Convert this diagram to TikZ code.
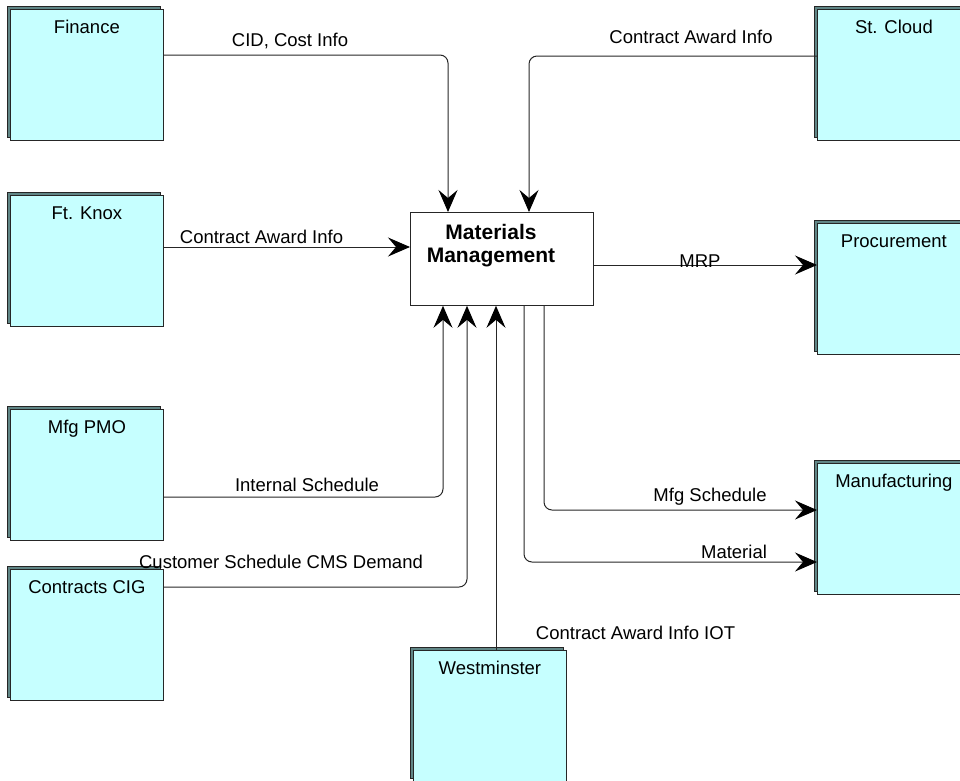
\documentclass[tikz,border=0pt]{standalone}
\usepackage{fontspec}
\setmainfont{Liberation Sans}
\usetikzlibrary{arrows.meta,shadows}
\definecolor{boxfill}{RGB}{198,255,255}
\definecolor{boxshade}{RGB}{96,134,134}
\begin{document}
\begin{tikzpicture}[x=1pt,y=-1pt,
        font=\fontsize{18.5}{22}\selectfont,
        box/.style={draw=black!85, fill=boxfill, line width=0.8pt, inner sep=0pt,
            minimum width=153pt, text height=24pt, text depth=107pt, anchor=north west,
            copy shadow={shadow xshift=-3pt, shadow yshift=3pt, fill=boxshade, draw=black!85}},
        flow/.style={draw=black!85, line width=1pt, rounded corners=8pt,
            -{Stealth[length=22pt,width=19pt,inset=8pt,black]}},
        lbl/.style={anchor=base, inner sep=0pt}]
        \useasboundingbox (0,0) rectangle (960,780);
        % outside parties
        \node[box] (fin) at (10,9) {Finance};
        \node[box] (knox) at (10,195) {Ft. Knox};
        \node[box] (pmo) at (10,409) {Mfg PMO};
        \node[box] (cig) at (10,569) {Contracts CIG};
        \node[box] (stc) at (817,9) {St. Cloud};
        \node[box] (proc) at (817,223) {Procurement};
        \node[box] (manu) at (817,463) {Manufacturing};
        \node[box] (west) at (413,650) {Westminster};
        % the process
        \node[draw=black!85, line width=0.8pt, fill=white, anchor=north west,
            minimum width=183pt, minimum height=93pt] (mm) at (410,212) {};
        \node[font=\bfseries\fontsize{21}{23}\selectfont, align=center, anchor=north,
            inner sep=0pt] (mmt) at (491,224) {Materials\\Management};
        % flows
        \draw[flow] ([yshift=-46pt]fin.north east) -| ([xshift=38pt]mm.north west);
        \draw[flow] ([yshift=-47pt]stc.north west) -| ([xshift=119pt]mm.north west);
        \draw[flow] ([yshift=-52pt]knox.north east) coordinate (k1) -- (k1 -| mm.west);
        \draw[flow] ([yshift=-53pt]mm.north east) coordinate (m1) -- (m1 -| proc.west);
        \draw[flow] ([yshift=-88pt]pmo.north east) -| ([xshift=33pt]mm.south west);
        \draw[flow] ([yshift=-18pt]cig.north east) -| ([xshift=57pt]mm.south west);
        \draw[flow] ([xshift=83pt]west.north west) coordinate (w1) -- (w1 |- mm.south);
        \draw[flow] ([xshift=134pt]mm.south west) |- ([yshift=-47pt]manu.north west);
        \draw[flow] ([xshift=114pt]mm.south west) |- ([yshift=-99pt]manu.north west);
        % flow labels
        \node[lbl] (lcid) at (290,46) {CID, Cost Info};
        \node[lbl] (lstc) at (691,43) {Contract Award Info};
        \node[lbl] (lknox) at (261.5,243) {Contract Award Info};
        \node[lbl] (lmrp) at (700,267) {MRP};
        \node[lbl] (lpmo) at (307,491) {Internal Schedule};
        \node[lbl] (lcig) at (281,568) {Customer Schedule CMS Demand};
        \node[lbl] (lsch) at (710,501) {Mfg Schedule};
        \node[lbl] (lmat) at (734,558) {Material};
        \node[lbl] (lwest) at (635.5,639) {Contract Award Info IOT};
    \end{tikzpicture}
\end{document}
